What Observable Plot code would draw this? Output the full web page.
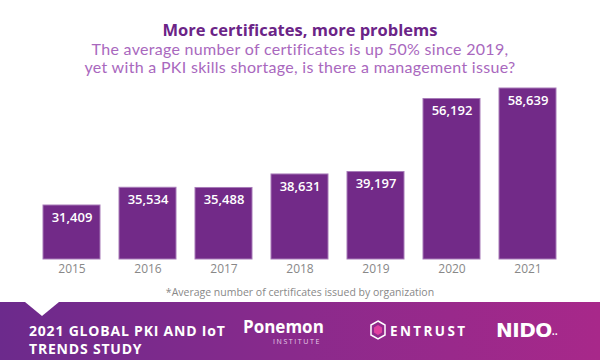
<!DOCTYPE html>
<html>
<head>
<meta charset="utf-8">
<script src="https://cdn.jsdelivr.net/npm/d3@7"></script>
<script src="https://cdn.jsdelivr.net/npm/@observablehq/plot@0.6"></script>
<style>
  html, body { margin: 0; padding: 0; background: #fff; }
  #page { position: relative; width: 600px; height: 360px; overflow: hidden; font-family: "Open Sans", Lato, sans-serif; }
  .title { position: absolute; top: 21px; left: 0; width: 600px; text-align: center; font-size: 16.5px; line-height: 18px; font-weight: 700; color: #6b2487; }
  .subtitle { position: absolute; top: 40px; left: 0; width: 600px; text-align: center; font-size: 16px; line-height: 18px; color: #a968be; font-family: Lato, sans-serif; font-weight: 400; letter-spacing: 0.3px; }
  #chart { position: absolute; top: 80px; left: 0; }
  .note { position: absolute; top: 285px; left: 0; width: 600px; text-align: center; font-size: 10.5px; color: #888; }
  .band { position: absolute; top: 302px; left: 0; width: 600px; height: 58px; background: linear-gradient(90deg, #6c2a8c 0%, #8a2a8c 50%, #a8288a 100%); }
  .notch { position: absolute; top: 302px; left: 25px; width: 0; height: 0; border-left: 17px solid transparent; border-right: 17px solid transparent; border-top: 14px solid #fff; }
  .study { position: absolute; top: 322px; left: 29px; font-size: 14px; line-height: 18px; font-weight: 700; color: #fff; letter-spacing: 0.8px; }
  .ponemon { position: absolute; top: 318px; left: 243px; font-size: 17px; font-weight: 700; color: #fff; line-height: 18px; }
  .inst { position: absolute; top: 337px; left: 273px; font-size: 7px; letter-spacing: 1.6px; color: #e6cfe8; }
  .hex { position: absolute; top: 320px; left: 370px; }
  .entrust { position: absolute; top: 322px; left: 390px; font-size: 13.5px; font-weight: 700; color: #fff; letter-spacing: 2.4px; }
  .nido { position: absolute; top: 318px; left: 496px; font-size: 20px; font-weight: 800; color: #fff; letter-spacing: -0.5px; font-family: "DejaVu Sans", sans-serif; }
</style>
</head>
<body>
<div id="page">
  <div class="title">More certificates, more problems</div>
  <div class="subtitle">The average number of certificates is up 50% since 2019,<br>yet with a PKI skills shortage, is there a management issue?</div>
  <div id="chart"></div>
  <div class="note">*Average number of certificates issued by organization</div>
  <div class="band"></div>
  <div class="notch"></div>
  <div class="study">2021 GLOBAL PKI AND IoT<br>TRENDS STUDY</div>
  <div class="ponemon">Ponemon</div>
  <div class="inst">INSTITUTE</div>
  <svg class="hex" width="16" height="20" viewBox="0 0 16 20"><polygon points="8,1 15,5 15,15 8,19 1,15 1,5" fill="none" stroke="#fff" stroke-width="1.5"/><polygon points="8,5 12,7.5 12,12.5 8,15 4,12.5 4,7.5" fill="#e040a0"/></svg>
  <div class="entrust">ENTRUST</div>
  <div class="nido">NIDO<span style="font-size:8px;letter-spacing:0">··</span></div>
</div>
<script>
const years = ["2015", "2016", "2017", "2018", "2019", "2020", "2021"];
const values = [31409, 35534, 35488, 38631, 39197, 56192, 58639];
const data = years.map((year, i) => ({year, value: values[i]}));

const chart = Plot.plot({
  width: 600,
  height: 200,
  marginTop: 8,
  marginBottom: 21,
  marginLeft: 23,
  marginRight: 25,
  style: { fontFamily: "'Open Sans', Lato, sans-serif", background: "transparent" },
  x: { domain: years, padding: 0.25, label: null, tickSize: 0, tickPadding: 5 },
  y: { domain: [18842, 58639], axis: null },
  marks: [
    Plot.barY(data, { x: "year", y1: 18842, y2: "value", fill: "#722a88", stroke: "#a77bb8", strokeWidth: 1 }),
    Plot.text(data, { x: "year", y: "value", text: d => d3.format(",")(d.value), dy: 12, fill: "#fff", fontWeight: 600, fontSize: 13 }),
    Plot.axisX({ tickSize: 0, tickPadding: 5, fontSize: 12, color: "#888", label: null })
  ]
});
document.getElementById("chart").appendChild(chart);
</script>
</body>
</html>
